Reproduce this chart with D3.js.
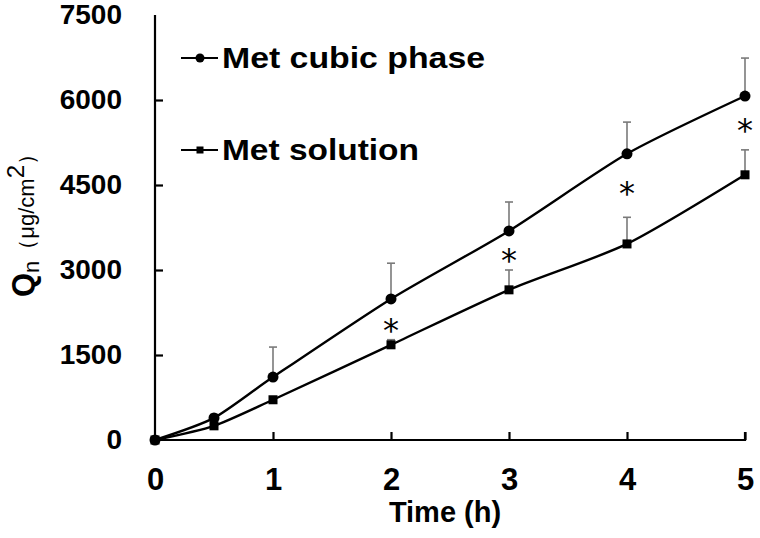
<!DOCTYPE html>
<html>
<head>
<meta charset="utf-8">
<script src="https://cdn.jsdelivr.net/npm/d3@7"></script>
<style>
  body { margin: 0; background: #fff; }
  text { font-family: "Liberation Sans", Arial, sans-serif; fill: #000; }
</style>
</head>
<body>
<div id="chart"></div>
<script>
// data
var times = [0, 0.5, 1, 2, 3, 4, 5]
var cubicMean = [0, 390, 1110, 2490, 3690, 5050, 6070]
var cubicErr = [0, 60, 530, 630, 510, 560, 670]
var solutionMean = [0, 250, 710, 1680, 2650, 3460, 4680]
var solutionErr = [0, 40, 40, 90, 350, 470, 440]
var starTimes = [2, 3, 4, 5]
var starValues = [2080, 3310, 4500, 5610]
var xTicks = [0, 1, 2, 3, 4, 5]
var yTicks = [0, 1500, 3000, 4500, 6000, 7500]
var seriesNames = ['Met cubic phase', 'Met solution']

var W = 760, H = 538
var margin = {top: 15, right: 15, bottom: 98, left: 155},
    width = W - margin.left - margin.right,
    height = H - margin.top - margin.bottom;

var x = d3.scaleLinear().domain([0, 5]).range([0, width]);
var y = d3.scaleLinear().domain([0, 7500]).range([height, 0]);

var svg = d3.select('#chart')
  .append('svg')
  .attr('width', W)
  .attr('height', H)
  .append('g')
  .attr('transform', 'translate(' + margin.left + ',' + margin.top + ')');

var series = [
  {name: seriesNames[0], mean: cubicMean, err: cubicErr, marker: 'circle'},
  {name: seriesNames[1], mean: solutionMean, err: solutionErr, marker: 'square'}
];
series.forEach(function(s) {
  s.points = times.map(function(t, i) { return {t: t, v: s.mean[i], e: s.err[i]}; });
});

// error bars (upper only), drawn first so lines sit on top
series.forEach(function(s) {
  var eb = svg.append('g').attr('class', 'errbars')
    .selectAll('g')
    .data(s.points.filter(function(d) { return d.e > 0; }))
    .enter().append('g')
    .attr('stroke', '#7a7a7a')
    .attr('stroke-width', 1.6);
  eb.append('line')
    .attr('x1', function(d) { return x(d.t); })
    .attr('x2', function(d) { return x(d.t); })
    .attr('y1', function(d) { return y(d.v); })
    .attr('y2', function(d) { return y(d.v + d.e); });
  eb.append('line')
    .attr('x1', function(d) { return x(d.t) - 4; })
    .attr('x2', function(d) { return x(d.t) + 4; })
    .attr('y1', function(d) { return y(d.v + d.e); })
    .attr('y2', function(d) { return y(d.v + d.e); });
});

// axes
var xAxis = svg.append('g')
  .attr('transform', 'translate(0,' + height + ')')
  .call(d3.axisBottom(x).tickValues(xTicks).tickSize(-8).tickPadding(28).tickFormat(d3.format('d')));
var yAxis = svg.append('g')
  .call(d3.axisLeft(y).tickValues(yTicks).tickSize(-8).tickPadding(33).tickFormat(d3.format('d')));

[xAxis, yAxis].forEach(function(a) {
  a.select('.domain').attr('stroke', '#000').attr('stroke-width', 2.2);
  a.selectAll('.tick line').attr('stroke', '#000').attr('stroke-width', 2.2);
  a.selectAll('.tick text')
    .attr('fill', '#000')
    .style('font-weight', 'bold')
    .style('font-family', '"Liberation Sans", Arial, sans-serif');
});
xAxis.selectAll('.tick text').style('font-size', '31px');
yAxis.selectAll('.tick text').style('font-size', '28px');
xAxis.selectAll('.tick').filter(function(d) { return d === 0; }).select('line').remove();
yAxis.selectAll('.tick').filter(function(d) { return d === 0 || d === 7500; }).select('line').remove();
yAxis.select('.domain').attr('d', 'M0,' + height + 'V0');
xAxis.select('.domain').attr('d', 'M0,0H' + width + 'V-8');

// lines
var line = d3.line()
  .x(function(d) { return x(d.t); })
  .y(function(d) { return y(d.v); })
  .curve(d3.curveCardinal.tension(0.3));

series.forEach(function(s) {
  svg.append('path')
    .datum(s.points)
    .attr('fill', 'none')
    .attr('stroke', '#000')
    .attr('stroke-width', 2.4)
    .attr('d', line);
});

function drawMarker(g, type, cx, cy, size) {
  if (type === 'circle') {
    g.append('circle').attr('cx', cx).attr('cy', cy).attr('r', size / 2).attr('fill', '#000');
  } else {
    g.append('rect').attr('x', cx - size / 2).attr('y', cy - size / 2)
      .attr('width', size).attr('height', size).attr('fill', '#000');
  }
}

series.forEach(function(s) {
  var g = svg.append('g');
  s.points.forEach(function(d) {
    drawMarker(g, s.marker, x(d.t), y(d.v), s.marker === 'circle' ? 11 : 9);
  });
});

// significance stars
svg.selectAll('.star')
  .data(starTimes.map(function(t, i) { return {t: t, v: starValues[i]}; }))
  .enter().append('text')
  .attr('class', 'star')
  .attr('x', function(d) { return x(d.t); })
  .attr('y', function(d) { return y(d.v) + 19; })
  .attr('text-anchor', 'middle')
  .attr('fill', '#000')
  .style('fill', '#000')
  .style('font-family', '"DejaVu Sans", sans-serif')
  .style('font-weight', 'normal')
  .style('font-size', '32px')
  .text('*');

// legend
var legend = svg.selectAll('.legend')
  .data(series)
  .enter().append('g')
  .attr('class', 'legend')
  .attr('transform', function(d, i) { return 'translate(0,' + (43 + i * 92) + ')'; });

legend.append('line')
  .attr('x1', 26).attr('x2', 63)
  .attr('y1', 0).attr('y2', 0)
  .attr('stroke', '#000').attr('stroke-width', 2.2);
legend.each(function(d) { drawMarker(d3.select(this), d.marker, 45, 0, d.marker === 'circle' ? 9 : 7); });
legend.append('text')
  .attr('x', 67)
  .attr('y', 10)
  .style('font-size', '29px')
  .style('font-weight', 'bold')
  .attr('textLength', function(d, i) { return i === 0 ? 263 : 197; })
  .attr('lengthAdjust', 'spacingAndGlyphs')
  .text(function(d) { return d.name; });

// axis titles
svg.append('text')
  .attr('x', width / 2 - 5)
  .attr('y', height + 82)
  .attr('text-anchor', 'middle')
  .style('font-size', '29px')
  .style('font-weight', 'bold')
  .text('Time (h)');

var yt = svg.append('text')
  .attr('transform', 'translate(' + (-121) + ',' + 205 + ') rotate(-90)')
  .attr('text-anchor', 'middle')
  .style('font-weight', 'bold');
yt.append('tspan').style('font-size', '31px').text('Q');
yt.append('tspan').attr('dy', 5).style('font-size', '22px').style('font-weight', 'normal').text('n');
yt.append('tspan').attr('dy', -5).style('font-size', '22px').style('font-weight', 'normal').text('（μg/cm');
yt.append('tspan').attr('dy', -10).style('font-size', '24px').style('font-weight', 'normal').text('2');
yt.append('tspan').attr('dy', 10).style('font-size', '22px').style('font-weight', 'normal').text('）');
</script>
</body>
</html>
